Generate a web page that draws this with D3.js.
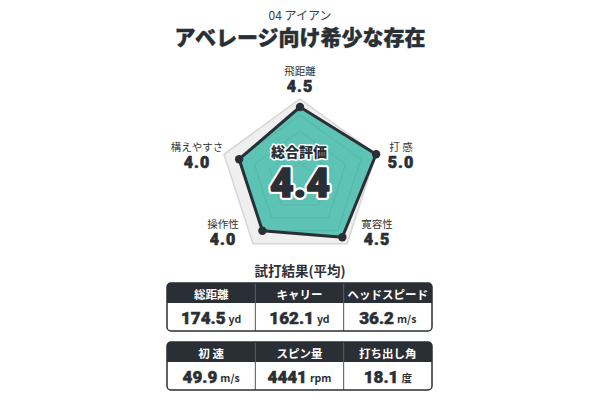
<!DOCTYPE html>
<html><head><meta charset="utf-8">
<script src="https://cdn.jsdelivr.net/npm/d3@7"></script>
<style>
html,body{margin:0;padding:0;background:#fff;}
svg{display:block;}
text{white-space:pre;}
</style></head>
<body>
<script>
// ---- data ----
const subtitle = "04 アイアン";
const title = "アベレージ向け希少な存在";
const axes = ["飛距離", "打 感", "寛容性", "操作性", "構えやすさ"];
const scores = [4.5, 5.0, 4.5, 4.0, 4.0];
const overallLabel = "総合評価";
const overall = 4.4;
const tableTitle = "試打結果(平均)";
const headers1 = ["総距離", "キャリー", "ヘッドスピード"];
const values1 = ["174.5", "162.1", "36.2"];
const units1 = ["yd", "yd", "m/s"];
const headers2 = ["初 速", "スピン量", "打ち出し角"];
const values2 = ["49.9", "4441", "18.1"];
const units2 = ["m/s", "rpm", "度"];
const maxScore = 5;
const gridLevels = [1, 2, 3, 4];

// ---- layout ----
const W = 600, H = 400;
const cx = 300, cy = 179, R = 80;
const dark = "#2a2f36", teal = "#5dc3b4";
const jp = "'Noto Sans CJK JP','Noto Sans',sans-serif";
const num = "Roboto,'Noto Sans',sans-serif";
const labelPos = [[300, 78.5], [401, 154], [377, 231], [223, 231], [197, 154]];

const svg = d3.select("body").append("svg").attr("width", W).attr("height", H);

svg.append("text").attr("x", 300).attr("y", 14.5).attr("text-anchor", "middle")
  .attr("dominant-baseline", "central").attr("font-family", jp).attr("font-size", 12)
  .attr("fill", "#3a3f45").text(subtitle);
svg.append("text").attr("x", 300).attr("y", 35.5).attr("text-anchor", "middle")
  .attr("dominant-baseline", "central").attr("font-family", jp).attr("font-size", 21)
  .attr("font-weight", 900).attr("fill", dark).attr("stroke", dark).attr("stroke-width", 0.4).text(title);

// ---- radar ----
const r = d3.scaleLinear().domain([0, maxScore]).range([0, R]);
const angle = d3.scalePoint().domain(d3.range(axes.length + 1)).range([0, 2 * Math.PI]);
const radial = d3.lineRadial().angle((d, i) => angle(i)).radius(d => r(d)).curve(d3.curveLinearClosed);
const g = svg.append("g").attr("transform", `translate(${cx},${cy})`);

g.append("path").attr("d", radial(axes.map(() => maxScore)))
  .attr("fill", "#efefef").attr("stroke", "#d6d6d6").attr("stroke-width", 1.5);
g.append("path").attr("d", radial(scores)).attr("fill", teal);
gridLevels.forEach(l => {
  g.append("path").attr("d", radial(axes.map(() => l)))
    .attr("fill", "none").attr("stroke", "#4faea1").attr("stroke-width", 1).attr("opacity", 0.6);
});
g.append("path").attr("d", radial(scores)).attr("fill", "none")
  .attr("stroke", dark).attr("stroke-width", 3).attr("stroke-linejoin", "round");
const pt = (v, i) => { const a = angle(i) - Math.PI / 2; return [r(v) * Math.cos(a), r(v) * Math.sin(a)]; };
g.selectAll("circle.pt").data(scores).join("circle").attr("class", "pt")
  .attr("cx", (d, i) => pt(d, i)[0]).attr("cy", (d, i) => pt(d, i)[1])
  .attr("r", 4.2).attr("fill", dark);

// axis labels
const lab = svg.append("g");
axes.forEach((a, i) => {
  const [x, y] = labelPos[i];
  lab.append("text").attr("x", x).attr("y", y - 8).attr("text-anchor", "middle")
    .attr("dominant-baseline", "central").attr("font-family", jp).attr("font-size", 10.5)
    .attr("fill", "#333").text(a);
  lab.append("text").attr("x", x).attr("y", y + 8).attr("text-anchor", "middle")
    .attr("dominant-baseline", "central").attr("font-family", num).attr("font-size", 16)
    .attr("font-weight", 900).attr("letter-spacing", 1).attr("fill", dark)
    .attr("stroke", dark).attr("stroke-width", 0.6).text(scores[i].toFixed(1));
});

// centre
svg.append("text").attr("x", 299).attr("y", 151).attr("text-anchor", "middle")
  .attr("dominant-baseline", "central").attr("font-family", jp).attr("font-size", 14)
  .attr("font-weight", 900).attr("fill", dark).attr("stroke", "#fff").attr("stroke-width", 3)
  .attr("paint-order", "stroke").attr("stroke-linejoin", "round").text(overallLabel);
const big = svg.append("g");
big.append("text").attr("x", 300).attr("y", 183).attr("text-anchor", "middle")
  .attr("dominant-baseline", "central").attr("font-family", num).attr("font-size", 41)
  .attr("font-weight", 900).attr("fill", "#fff").attr("stroke", "#fff").attr("stroke-width", 6)
  .attr("stroke-linejoin", "round").text(overall.toFixed(1));
big.append("text").attr("x", 300).attr("y", 183).attr("text-anchor", "middle")
  .attr("dominant-baseline", "central").attr("font-family", num).attr("font-size", 41)
  .attr("font-weight", 900).attr("fill", dark).attr("stroke", dark).attr("stroke-width", 1.6)
  .attr("stroke-linejoin", "round").text(overall.toFixed(1));

// ---- tables ----
svg.append("text").attr("x", 300).attr("y", 270).attr("text-anchor", "middle")
  .attr("dominant-baseline", "central").attr("font-family", jp).attr("font-size", 13.5)
  .attr("font-weight", 700).attr("fill", dark).text(tableTitle);

const col = d3.scaleBand().domain(d3.range(3)).range([167, 432]);
function table(top, headers, values, units, id) {
  const hh = 20, vh = 28, x0 = col.range()[0], x1 = col.range()[1];
  const t = svg.append("g");
  const clip = svg.append("clipPath").attr("id", id);
  clip.append("rect").attr("x", x0).attr("y", top).attr("width", x1 - x0).attr("height", hh + vh).attr("rx", 4);
  const c = t.append("g").attr("clip-path", `url(#${id})`);
  c.append("rect").attr("x", x0).attr("y", top).attr("width", x1 - x0).attr("height", hh).attr("fill", dark);
  c.append("rect").attr("x", x0).attr("y", top + hh).attr("width", x1 - x0).attr("height", vh).attr("fill", "#fff");
  d3.range(1, 3).forEach(i => {
    c.append("line").attr("x1", col(i)).attr("x2", col(i)).attr("y1", top).attr("y2", top + hh)
      .attr("stroke", "#5a5f66").attr("stroke-width", 1);
    c.append("line").attr("x1", col(i)).attr("x2", col(i)).attr("y1", top + hh).attr("y2", top + hh + vh)
      .attr("stroke", "#555").attr("stroke-width", 1);
  });
  t.append("rect").attr("x", x0).attr("y", top).attr("width", x1 - x0).attr("height", hh + vh).attr("rx", 4)
    .attr("fill", "none").attr("stroke", dark).attr("stroke-width", 1.5);
  headers.forEach((h, i) => {
    t.append("text").attr("x", col(i) + col.bandwidth() / 2).attr("y", top + hh / 2 + 0.5)
      .attr("text-anchor", "middle").attr("dominant-baseline", "central").attr("font-family", jp)
      .attr("font-size", 11.5).attr("font-weight", 700).attr("fill", "#fff").text(h);
    const tx = t.append("text").attr("x", col(i) + col.bandwidth() / 2).attr("y", top + hh + vh / 2 + 0.5)
      .attr("text-anchor", "middle").attr("dominant-baseline", "central").attr("fill", dark);
    tx.append("tspan").attr("font-family", num).attr("font-size", 17).attr("font-weight", 900)
      .attr("stroke", dark).attr("stroke-width", 0.5).text(values[i]);
    tx.append("tspan").attr("dx", 3).attr("font-family", jp).attr("font-size", 10.5).attr("font-weight", 700).text(units[i]);
  });
}
table(283, headers1, values1, units1, "c1");
table(342, headers2, values2, units2, "c2");
</script>
</body></html>
